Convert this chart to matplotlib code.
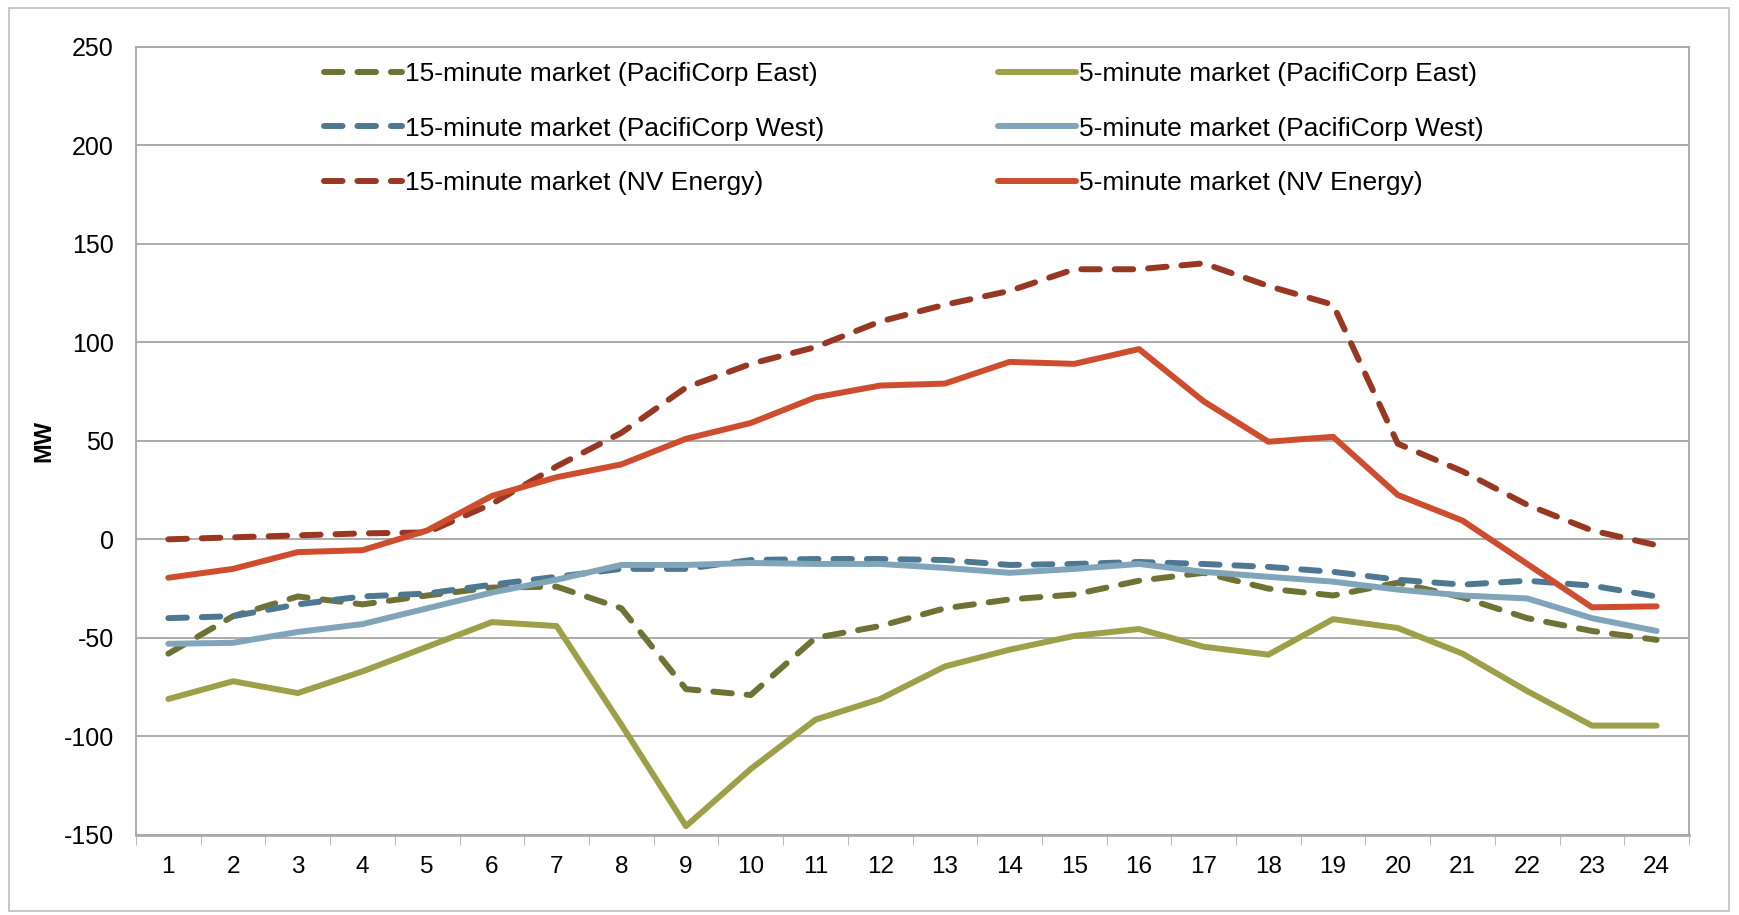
import matplotlib as mpl
import matplotlib.pyplot as plt
import numpy as np

plt.rcParams['font.family'] = ['Liberation Sans', 'DejaVu Sans']
plt.rcParams['axes.unicode_minus'] = False

hours = np.arange(1, 25)

pace_15 = [-58, -39, -29, -33, -28.5, -24.5, -24, -35, -76, -79, -50, -44, -35, -30.5, -28, -21, -17, -25,
           -28.5, -22, -29.5, -40, -46.5, -51]
pace_5 = [-81, -72, -78, -67, -54.5, -42, -44, -94, -145.5, -116.5, -91.5, -81, -64.5, -56, -49, -45.5, -54.5,
          -58.5, -40.5, -45, -58, -77, -94.5, -94.5]
pacw_15 = [-40, -39, -33, -29, -27.5, -23, -19, -15, -15, -10.5, -10, -10, -10.5, -13, -12.5, -11.5, -12.5, -14,
           -16.5, -20.5, -23, -21, -23.5, -29]
pacw_5 = [-53, -52.5, -47, -43, -35, -27, -20.5, -13, -13, -12, -12.5, -12.5, -14.5, -17, -15, -12.5, -16.5, -19,
          -21.5, -25.5, -28.5, -30, -40, -46.5]
nve_15 = [0, 1, 2, 3, 3.5, 18, 37, 54, 77, 89, 97.5, 110.5, 119, 126, 137, 137, 140, 128.5, 119, 48.5, 34.5, 17.5,
          4.5, -3]
nve_5 = [-19.5, -15, -6.5, -5.5, 4.5, 22, 31.5, 38, 51, 59, 72, 78, 79, 90, 89, 96.5, 70, 49.5, 52, 22.5, 9.5,
         -12.5, -34.5, -34]

labels = ['15-minute market (PacifiCorp East)', '5-minute market (PacifiCorp East)',
          '15-minute market (PacifiCorp West)', '5-minute market (PacifiCorp West)',
          '15-minute market (NV Energy)', '5-minute market (NV Energy)']
colors = ['#6e7235', '#9e9f49', '#4e7891', '#80a5ba', '#983823', '#ce4d2e']
series = [pace_15, pace_5, pacw_15, pacw_5, nve_15, nve_5]
grid_grey = '#ababab'

fig = plt.figure(figsize=(17.39, 9.15), dpi=100)
ax = fig.add_axes([136 / 1739, 1 - 835 / 915, (1689 - 136) / 1739, (835 - 46.5) / 915])

# outer chart frame
fig.patches.append(mpl.patches.Rectangle((9 / 1739, 4 / 915), 1 - 19 / 1739, 1 - 12 / 915,
                                         transform=fig.transFigure, fill=False,
                                         edgecolor='#bfbfbf', lw=1.2))

handles = []
for vals, lab, col in zip(series, labels, colors):
    if lab.startswith('15'):
        h, = ax.plot(hours, vals, color=col, lw=4.3, label=lab, dashes=(3.1, 2.5),
                     dash_capstyle='round', solid_capstyle='round', solid_joinstyle='round')
    else:
        h, = ax.plot(hours, vals, color=col, lw=4.3, label=lab, solid_capstyle='round',
                     solid_joinstyle='round')
    handles.append(h)

ax.set_xlim(0.5, 24.5)
ax.set_ylim(-150, 250)
ax.set_yticks(np.arange(-150, 251, 50))
ax.set_xticks(hours)
ax.set_xticks(np.arange(0.5, 25, 1), minor=True)
ax.tick_params(axis='x', which='major', length=0, labelsize=17.5, pad=15)
ax.tick_params(axis='x', which='minor', length=7, color=grid_grey, direction='out')
ax.tick_params(axis='y', length=0, labelsize=18, pad=16)
ax.yaxis.grid(True, color=grid_grey, lw=1.4)
ax.set_axisbelow(True)
for sp in ax.spines.values():
    sp.set_color(grid_grey)
    sp.set_linewidth(1.4)
ax.spines['bottom'].set_linewidth(2)
ax.set_ylabel('MW', fontsize=17, fontweight='bold', labelpad=6)

# excel fills legend row by row
order = [0, 2, 4, 1, 3, 5]
ax.legend([handles[i] for i in order], [labels[i] for i in order],
          loc='upper left', bbox_to_anchor=(0.106, 1.01), ncol=2, frameon=False, fontsize=19,
          handlelength=2.95, handletextpad=0.1, columnspacing=6.6, labelspacing=1.15)

fig.savefig('out.png', dpi=100)
